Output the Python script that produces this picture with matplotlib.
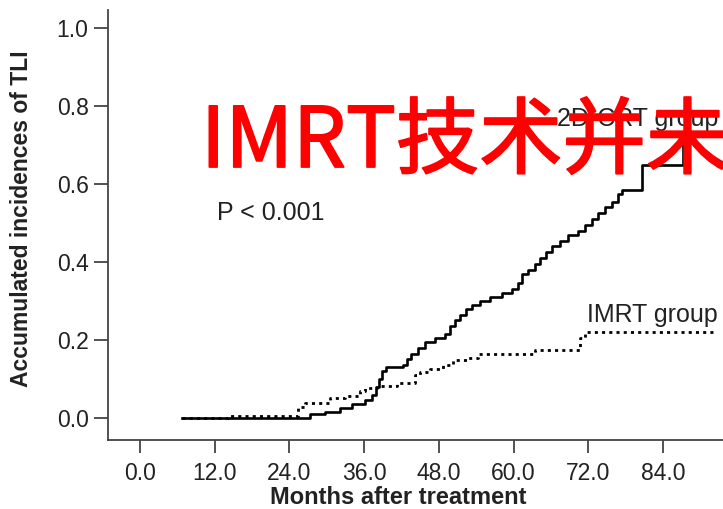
import matplotlib
matplotlib.use("Agg")
import matplotlib.pyplot as plt
import matplotlib.patheffects as pe

# cumulative incidence of TLI, step values (month, value after step)
crt_months = [6.7, 27.3, 29.7, 32.1, 34.1, 36.1, 37.3, 37.9, 38.4, 38.9, 39.5,
              42.2, 42.9, 43.5, 44.7, 45.8, 47.4, 49.0, 49.8, 50.6, 51.4, 52.4,
              53.3, 54.6, 56.2, 58.2, 59.8, 60.7, 61.4, 62.3, 63.5, 64.3, 65.2,
              66.2, 67.5, 68.8, 70.4, 71.5, 72.6, 73.6, 74.7, 75.8, 76.8, 77.4,
              80.6, 87.3, 93.7]
crt_values = [0.0, 0.010, 0.015, 0.025, 0.035, 0.045, 0.06, 0.08, 0.10, 0.12, 0.13,
              0.135, 0.15, 0.165, 0.18, 0.195, 0.205, 0.215, 0.235, 0.25, 0.265, 0.28,
              0.29, 0.30, 0.31, 0.32, 0.33, 0.345, 0.37, 0.38, 0.395, 0.41, 0.425,
              0.44, 0.455, 0.47, 0.48, 0.495, 0.51, 0.525, 0.54, 0.555, 0.575, 0.585,
              0.648, 0.724, 0.724]

imrt_months = [6.7, 14.1, 25.4, 26.5, 30.5, 32.9, 35.3, 36.1, 38.1, 41.3, 44.2,
               45.0, 46.6, 48.7, 50.3, 52.5, 54.3, 63.5, 70.7, 71.5, 92.7]
imrt_values = [0.0, 0.005, 0.028, 0.038, 0.05, 0.056, 0.07, 0.077, 0.083, 0.09, 0.11,
               0.118, 0.125, 0.135, 0.148, 0.155, 0.165, 0.175, 0.205, 0.22, 0.22]

x_ticks = [0, 12, 24, 36, 48, 60, 72, 84]
y_ticks = [0.0, 0.2, 0.4, 0.6, 0.8, 1.0]

plt.rcParams['font.family'] = ['Liberation Sans', 'DejaVu Sans']
axis_color = '#444444'

fig = plt.figure(figsize=(7.23, 5.09), dpi=100)
ax = fig.add_axes([108/723, 69/509, 615/723, 430/509])

ax.step(crt_months, crt_values, where='post', color='black', lw=1.9)
ax.step(imrt_months, imrt_values, where='post', color='black', lw=2.0,
        linestyle=(0, (1.1, 1.5)))

ax.set_xlim(-5.14, 93.65)
ax.set_ylim(-0.0564, 1.046)
ax.set_xticks(x_ticks)
ax.set_xticklabels([f'{v:.1f}' for v in x_ticks])
ax.set_yticks(y_ticks)
ax.set_yticklabels([f'{v:.1f}' for v in y_ticks])

for s in ['top', 'right']:
    ax.spines[s].set_visible(False)
for s in ['left', 'bottom']:
    ax.spines[s].set_color(axis_color)
    ax.spines[s].set_linewidth(1.3)
ax.tick_params(axis='both', colors=axis_color, labelcolor='#222222',
               labelsize=16.5, width=1.3)
ax.tick_params(axis='y', length=10, pad=4)
ax.tick_params(axis='x', length=9.5, pad=6)

ax.set_xlabel('Months after treatment', fontsize=17, fontweight='bold', color='#222222')
ax.xaxis.set_label_coords(0.4715, -0.1326)
ax.xaxis.label.set_verticalalignment('center')
ax.set_ylabel('Accumulated incidences of TLI', fontsize=16.5, fontweight='bold', color='#222222')
ax.yaxis.set_label_coords(-0.14, 0.514)
ax.yaxis.label.set_verticalalignment('center')

ax.text(12.4, 0.508, 'P < 0.001', fontsize=18, color='#222222', va='baseline')
ax.text(71.8, 0.246, 'IMRT group', fontsize=18, color='#222222', va='baseline')
ax.text(67.0, 0.749, '2D-CRT group', fontsize=18, color='#222222', va='baseline',
        clip_on=False)

# red overlay caption, regular face thickened a little with a stroke
fig.text(201/723, 1 - 167/509, 'IMRT技术并未', color='#ff0000', fontsize=60,
         family=['Noto Sans CJK SC', 'DejaVu Sans'], ha='left', va='baseline',
         path_effects=[pe.withStroke(linewidth=1.3, foreground='#ff0000')])

fig.savefig('out.png', dpi=100)
